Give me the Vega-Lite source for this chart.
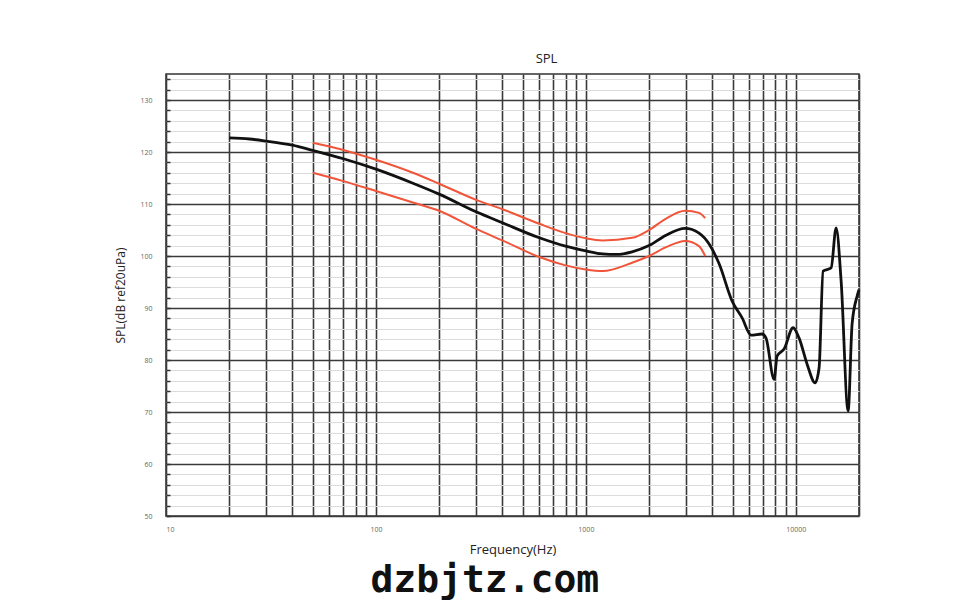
{
  "$schema": "https://vega.github.io/schema/vega-lite/v6.json",
  "background": "white",
  "padding": {"left": 114, "top": 52, "right": 0, "bottom": 0},
  "title": {"text": "dzbjtz.com", "orient": "bottom", "anchor": "middle", "font": "DejaVu Sans Mono", "fontWeight": "bold", "fontSize": 38, "color": "#111", "offset": 5, "dx": -5},
  "config": {
    "view": {"stroke": "#333", "strokeWidth": 1.5},
    "axis": {"labelFont": "Open Sans", "titleFont": "Open Sans"}
  },
  "datasets": {
    "spl": [
      {"f": 20, "db": 122.7}, {"f": 25, "db": 122.5}, {"f": 30, "db": 122.1}, {"f": 40, "db": 121.3},
      {"f": 50, "db": 120.3}, {"f": 70, "db": 118.7}, {"f": 100, "db": 116.7}, {"f": 150, "db": 114.0},
      {"f": 200, "db": 111.9}, {"f": 300, "db": 108.5}, {"f": 400, "db": 106.4}, {"f": 600, "db": 103.5},
      {"f": 800, "db": 101.9}, {"f": 1000, "db": 101.0}, {"f": 1200, "db": 100.4}, {"f": 1400, "db": 100.3},
      {"f": 1660, "db": 100.8}, {"f": 2000, "db": 102.0}, {"f": 2410, "db": 104.0}, {"f": 2970, "db": 105.3},
      {"f": 3460, "db": 104.4}, {"f": 3865, "db": 102.3}, {"f": 4313, "db": 98.5}, {"f": 4977, "db": 91.3},
      {"f": 5550, "db": 88.1}, {"f": 6124, "db": 84.8}, {"f": 6905, "db": 85.0}, {"f": 7215, "db": 84.2},
      {"f": 7880, "db": 76.3}, {"f": 8150, "db": 80.8}, {"f": 8790, "db": 82.1}, {"f": 9710, "db": 86.2},
      {"f": 10370, "db": 84.2}, {"f": 11320, "db": 79.2}, {"f": 12360, "db": 75.6}, {"f": 12910, "db": 78.5},
      {"f": 13490, "db": 97.1}, {"f": 14730, "db": 97.7}, {"f": 15560, "db": 105.4}, {"f": 16440, "db": 95.2},
      {"f": 17750, "db": 70.2}, {"f": 18540, "db": 86.9}, {"f": 19600, "db": 92.3}, {"f": 20000, "db": 93.5}
    ],
    "limits": [
      {"f": 50, "db": 121.8, "s": "upper"}, {"f": 70, "db": 120.4, "s": "upper"}, {"f": 100, "db": 118.5, "s": "upper"},
      {"f": 150, "db": 116.0, "s": "upper"}, {"f": 200, "db": 113.9, "s": "upper"}, {"f": 300, "db": 110.8, "s": "upper"},
      {"f": 400, "db": 109.0, "s": "upper"}, {"f": 600, "db": 106.2, "s": "upper"}, {"f": 800, "db": 104.4, "s": "upper"},
      {"f": 1000, "db": 103.4, "s": "upper"}, {"f": 1200, "db": 103.0, "s": "upper"}, {"f": 1660, "db": 103.5, "s": "upper"},
      {"f": 2000, "db": 105.0, "s": "upper"}, {"f": 2410, "db": 107.2, "s": "upper"}, {"f": 2970, "db": 108.7, "s": "upper"},
      {"f": 3460, "db": 108.3, "s": "upper"}, {"f": 3700, "db": 107.3, "s": "upper"},
      {"f": 50, "db": 116.0, "s": "lower"}, {"f": 70, "db": 114.4, "s": "lower"}, {"f": 100, "db": 112.5, "s": "lower"},
      {"f": 150, "db": 110.3, "s": "lower"}, {"f": 200, "db": 108.7, "s": "lower"}, {"f": 300, "db": 105.2, "s": "lower"},
      {"f": 400, "db": 103.0, "s": "lower"}, {"f": 600, "db": 99.8, "s": "lower"}, {"f": 800, "db": 98.2, "s": "lower"},
      {"f": 1000, "db": 97.4, "s": "lower"}, {"f": 1200, "db": 97.1, "s": "lower"}, {"f": 1660, "db": 98.7, "s": "lower"},
      {"f": 2000, "db": 100.0, "s": "lower"}, {"f": 2410, "db": 101.7, "s": "lower"}, {"f": 2970, "db": 102.9, "s": "lower"},
      {"f": 3460, "db": 101.9, "s": "lower"}, {"f": 3700, "db": 100.0, "s": "lower"}
    ]
  },
  "vconcat": [
    {
      "title": {"text": "SPL", "font": "Open Sans", "fontSize": 13, "fontWeight": "normal", "color": "#222", "dx": 34, "offset": 8},
      "width": 693,
      "height": 442,
      "resolve": {"axis": {"y": "independent"}},
      "layer": [
        {
          "data": {"name": "limits"},
          "mark": {"type": "line", "color": "#f0553a", "strokeWidth": 2, "interpolate": "monotone"},
          "encoding": {
            "x": {"field": "f", "type": "quantitative",
              "scale": {"type": "log", "domain": [10, 20000], "nice": false},
              "axis": {
                "values": [10,20,30,40,50,60,70,80,90,100,200,300,400,500,600,700,800,900,1000,2000,3000,4000,5000,6000,7000,8000,9000,10000,20000],
                "format": "d",
                "labelExpr": "(datum.value == 10 || datum.value == 100 || datum.value == 1000 || datum.value == 10000) ? datum.label : ''",
                "grid": true, "gridColor": "#3a3a3a", "gridWidth": 1.6, "gridOpacity": 1,
                "ticks": false, "domain": false,
                "labelFontSize": 7, "labelColor": "#666", "labelPadding": 9,
                "title": "Frequency(Hz)", "titleFontSize": 13, "titleFontWeight": "normal", "titleColor": "#222", "titlePadding": 11
              }
            },
            "y": {"field": "db", "type": "quantitative",
              "scale": {"domain": [50, 135], "nice": false, "zero": false},
              "axis": {
                "values": [50,52,54,56,58,60,62,64,66,68,70,72,74,76,78,80,82,84,86,88,90,92,94,96,98,100,102,104,106,108,110,112,114,116,118,120,122,124,126,128,130,132,134],
                "labelExpr": "datum.value % 10 == 0 ? datum.label : ''",
                "grid": true, "gridColor": "#dcdcdc", "gridWidth": 1, "gridOpacity": 1,
                "ticks": true, "tickSize": -4, "tickColor": "#333", "tickWidth": 1.5,
                "domain": false,
                "labelFontSize": 7, "labelColor": "#666", "labelPadding": 18,
                "title": "SPL(dB ref20uPa)", "titleFontSize": 12, "titleFontWeight": "normal", "titleColor": "#222", "titlePadding": 12
              }
            },
            "detail": {"field": "s", "type": "nominal"}
          }
        },
        {
          "data": {"name": "spl"},
          "mark": {"type": "line", "color": "#111", "strokeWidth": 2.8, "interpolate": "monotone"},
          "encoding": {
            "x": {"field": "f", "type": "quantitative", "scale": {"type": "log", "domain": [10, 20000], "nice": false}},
            "y": {"field": "db", "type": "quantitative",
              "scale": {"domain": [50, 135], "nice": false, "zero": false},
              "axis": {
                "orient": "right", "values": [50,60,70,80,90,100,110,120,130],
                "labels": false, "ticks": false, "domain": false, "title": null,
                "grid": true, "gridColor": "#3a3a3a", "gridWidth": 1.6, "gridOpacity": 1
              }
            }
          }
        }
      ]
    }
  ]
}
